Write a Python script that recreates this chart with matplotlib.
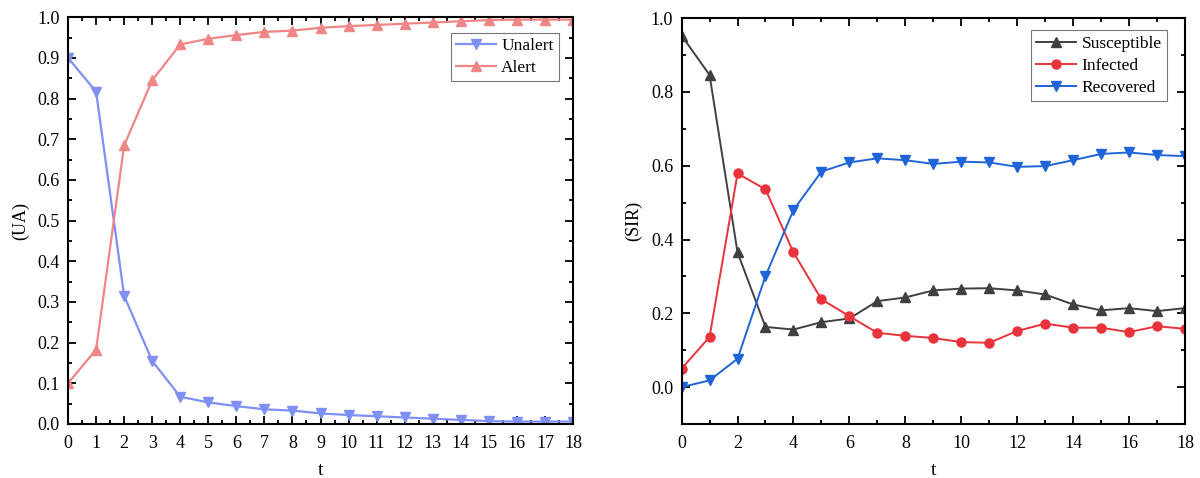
import matplotlib
matplotlib.use("Agg")
import matplotlib.pyplot as plt
from matplotlib.ticker import MultipleLocator, FormatStrFormatter

plt.rcParams['font.family'] = ['Liberation Serif', 'DejaVu Serif']

t = list(range(19))
unalert = [0.900, 0.817, 0.315, 0.155, 0.067, 0.053, 0.044, 0.036, 0.033, 0.026,
           0.022, 0.019, 0.016, 0.013, 0.010, 0.007, 0.006, 0.006, 0.006]
alert = [0.100, 0.183, 0.685, 0.845, 0.933, 0.947, 0.956, 0.964, 0.967, 0.974,
         0.978, 0.981, 0.984, 0.987, 0.990, 0.993, 0.994, 0.994, 0.994]

susceptible = [0.953, 0.846, 0.365, 0.163, 0.156, 0.176, 0.186, 0.233, 0.243, 0.262,
               0.267, 0.268, 0.262, 0.251, 0.224, 0.208, 0.214, 0.206, 0.214]
infected = [0.050, 0.136, 0.579, 0.536, 0.365, 0.238, 0.192, 0.147, 0.139, 0.133,
            0.122, 0.120, 0.152, 0.172, 0.161, 0.161, 0.149, 0.165, 0.158]
recovered = [0.000, 0.018, 0.077, 0.301, 0.480, 0.584, 0.609, 0.620, 0.615, 0.605,
             0.611, 0.609, 0.597, 0.599, 0.615, 0.632, 0.636, 0.629, 0.626]

fig = plt.figure(figsize=(12, 4.78), dpi=100)
ax1 = fig.add_axes([0.0567, 0.113, 0.4208, 0.851])
ax2 = fig.add_axes([0.568, 0.113, 0.4195, 0.849])

ax1.plot(t, unalert, color='#7f8ff5', marker='v', markersize=7, lw=1.6, label='Unalert')
ax1.plot(t, alert, color='#f08585', marker='^', markersize=7, lw=1.6, label='Alert')
ax1.set_xlim(0, 18)
ax1.set_ylim(0, 1.0)
ax1.xaxis.set_major_locator(MultipleLocator(1))
ax1.xaxis.set_minor_locator(MultipleLocator(0.5))
ax1.yaxis.set_major_locator(MultipleLocator(0.1))
ax1.yaxis.set_minor_locator(MultipleLocator(0.05))
ax1.set_xlabel('t', fontsize=14, labelpad=7)
ax1.set_ylabel('(UA)', fontsize=13, labelpad=6)
leg1 = ax1.legend(loc='upper right', bbox_to_anchor=(0.972, 0.961), fontsize=12.5,
                  frameon=True, fancybox=False, edgecolor='#555555', borderaxespad=0,
                  handlelength=2.3, borderpad=0.3, labelspacing=0.3, handletextpad=0.3)
leg1.get_frame().set_linewidth(0.8)

ax2.plot(t, susceptible, color='#404040', marker='^', markersize=6.5, lw=1.4, label='Susceptible')
ax2.plot(t, infected, color='#e8333b', marker='o', markersize=6.5, lw=1.4, label='Infected')
ax2.plot(t, recovered, color='#1f64d8', marker='v', markersize=6.5, lw=1.4, label='Recovered')
ax2.set_xlim(0, 18)
ax2.set_ylim(-0.1, 1.0)
ax2.xaxis.set_major_locator(MultipleLocator(2))
ax2.xaxis.set_minor_locator(MultipleLocator(1))
ax2.yaxis.set_major_locator(MultipleLocator(0.2))
ax2.yaxis.set_minor_locator(MultipleLocator(0.1))
ax2.set_xlabel('t', fontsize=14, labelpad=7)
ax2.set_ylabel('(SIR)', fontsize=13, labelpad=6)
leg2 = ax2.legend(loc='upper right', bbox_to_anchor=(0.964, 0.970), fontsize=12.5,
                  frameon=True, fancybox=False, edgecolor='#555555', borderaxespad=0,
                  handlelength=2.3, borderpad=0.3, labelspacing=0.35, handletextpad=0.3)
leg2.get_frame().set_linewidth(0.8)

for ax in (ax1, ax2):
    for s in ax.spines.values():
        s.set_linewidth(1.5)
    ax.tick_params(which='both', direction='in', top=True, right=True,
                   labelsize=13, width=1.3)
    ax.tick_params(which='major', length=6)
    ax.tick_params(which='minor', length=3)
    ax.tick_params(axis='x', pad=8)
    ax.tick_params(axis='y', pad=6)
    ax.yaxis.set_major_formatter(FormatStrFormatter('%.1f'))

fig.savefig('out.png', dpi=100)
